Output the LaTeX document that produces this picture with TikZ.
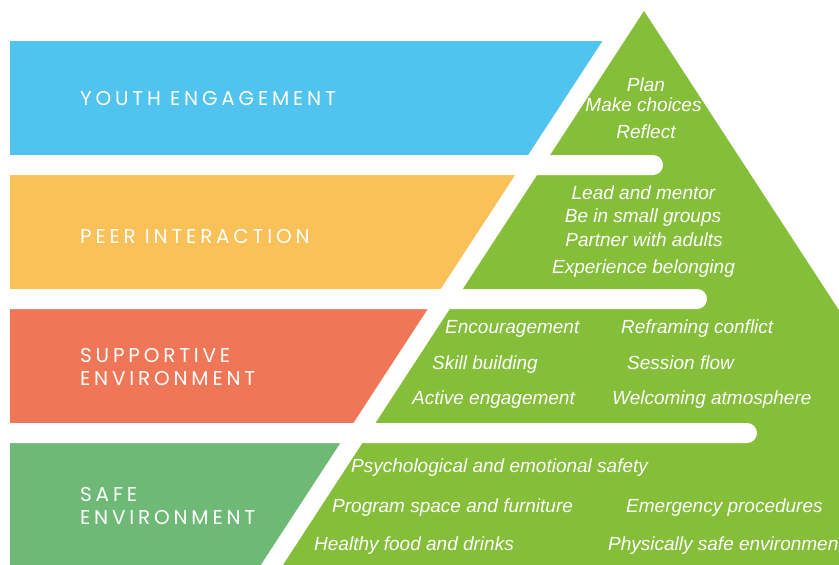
\documentclass[tikz,border=0pt]{standalone}
\usepackage{fontspec}
\setmainfont{Liberation Sans}
\newfontfamily\labfont[LetterSpace=19]{Poppins}
\definecolor{cblue}{RGB}{80,195,238}
\definecolor{corange}{RGB}{249,193,88}
\definecolor{cred}{RGB}{239,118,87}
\definecolor{csafe}{RGB}{110,185,118}
\definecolor{clime}{RGB}{133,191,58}
\begin{document}
\begin{tikzpicture}[x=1pt,y=-1pt,
  item/.style={text=white,font=\fontsize{19}{21}\selectfont\itshape,inner sep=0pt,anchor=base},
  itemw/.style={item,anchor=base west},
  lab/.style={text=white,font=\fontsize{20}{22}\selectfont\labfont,inner sep=0pt,anchor=base west},
  bar/.style={fill=white,rounded corners=10pt}]
\useasboundingbox (0,0) rectangle (839,565);
\clip (0,0) rectangle (839,565);
% pyramid
\fill[clime] (644,11) -- (1035,611) -- (253,611) -- cycle;
% bands
\fill[cblue] (10,41) -- (602.4,41) -- (528.1,155) -- (10,155) -- cycle;
\fill[corange] (10,175) -- (515.1,175) -- (440.7,289) -- (10,289) -- cycle;
\fill[cred] (10,309) -- (427.7,309) -- (353.4,423) -- (10,423) -- cycle;
\fill[csafe] (10,443) -- (340.3,443) -- (230.8,611) -- (10,611) -- cycle;
% white bars
\fill[bar] (-20,155) rectangle (663,175);
\fill[bar] (-20,289) rectangle (707,309);
\fill[bar] (-20,423) rectangle (757,443);
% band labels
\node[lab] (l1) at (80,105) {YOUTH ENGAGEMENT};
\node[lab] (l2) at (80,243) {PEER INTERACTION};
\node[lab] (l3a) at (80,362) {SUPPORTIVE};
\node[lab] (l3b) at (80,385) {ENVIRONMENT};
\node[lab] (l4a) at (80,501) {SAFE};
\node[lab] (l4b) at (80,524) {ENVIRONMENT};
% youth engagement items
\node[item] (a1) at (646,91) {Plan};
\node[item] (a2) at (643.5,111) {Make choices};
\node[item] (a3) at (646,138) {Reflect};
% peer interaction items
\node[item] (b1) at (643.5,199) {Lead and mentor};
\node[item] (b2) at (643,222) {Be in small groups};
\node[item] (b3) at (644,246) {Partner with adults};
\node[item] (b4) at (643.5,273) {Experience belonging};
% supportive environment items
\node[itemw] (c1) at (445,333) {Encouragement};
\node[itemw] (c2) at (621,333) {Reframing conflict};
\node[itemw] (c3) at (432,369) {Skill building};
\node[itemw] (c4) at (627,369) {Session flow};
\node[itemw] (c5) at (412,404) {Active engagement};
\node[itemw] (c6) at (612,404) {Welcoming atmosphere};
% safe environment items
\node[itemw] (d1) at (351,472) {Psychological and emotional safety};
\node[itemw] (d2) at (332,512) {Program space and furniture};
\node[itemw] (d3) at (626,512) {Emergency procedures};
\node[itemw] (d4) at (314,550) {Healthy food and drinks};
\node[itemw] (d5) at (608,550) {Physically safe environment};
\end{tikzpicture}
\end{document}
